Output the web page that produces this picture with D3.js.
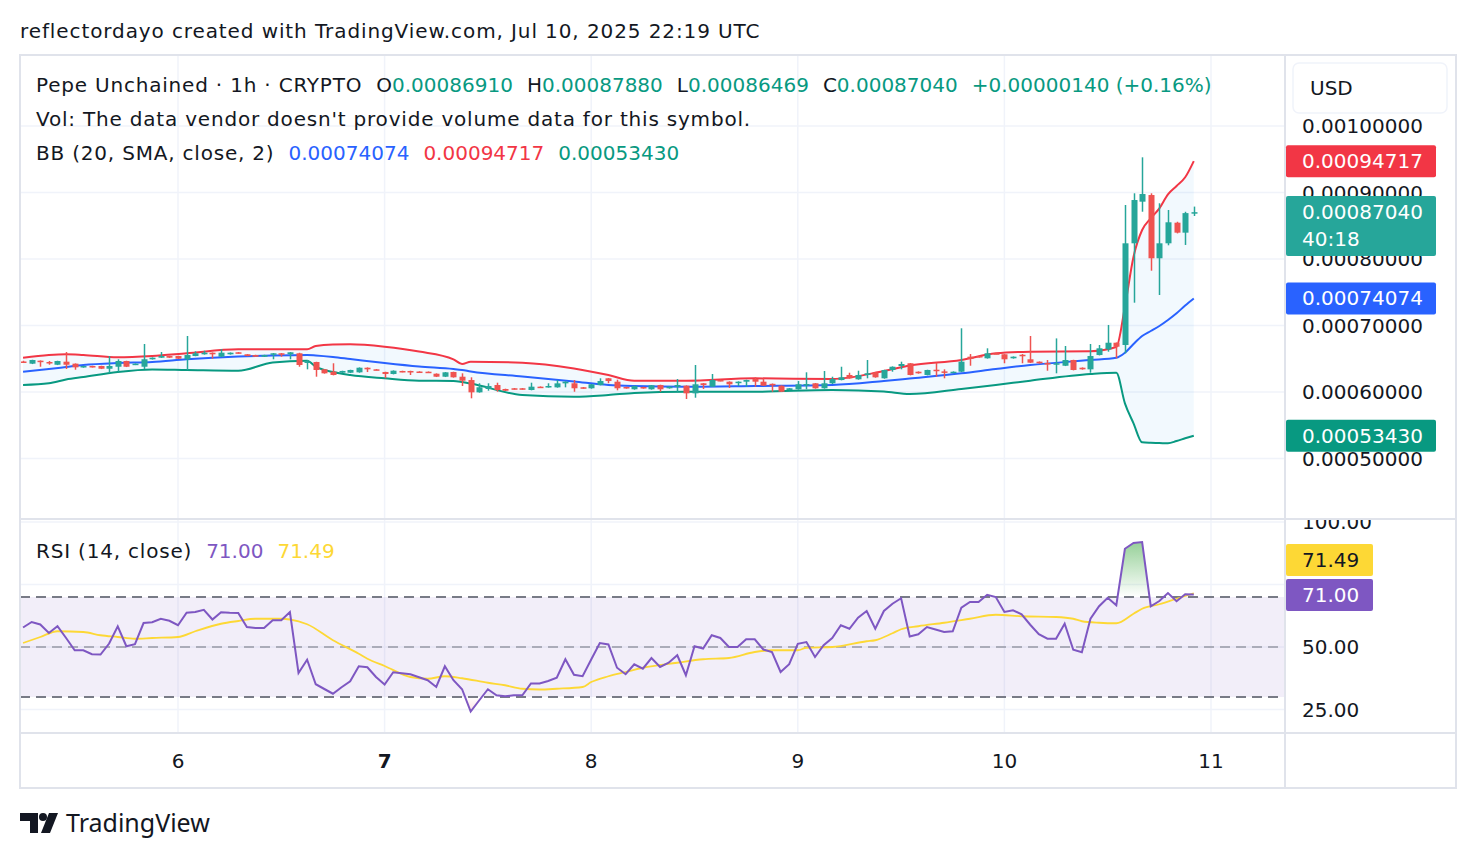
<!DOCTYPE html>
<html lang="en">
<head>
<meta charset="UTF-8">
<title>Pepe Unchained 1h - TradingView</title>
<script src="https://cdn.jsdelivr.net/npm/d3@7"></script>
<style>
  body { margin: 0; background: #fff; }
  svg text { font-family: "DejaVu Sans", "Noto Sans", sans-serif; fill: #131722; }
  .wide { letter-spacing: 0.8px; }
</style>
</head>
<body>
<svg id="chart" width="1476" height="858"></svg>
<script>
// prices are kept in units of 1e-8 (87040 = 0.00087040)
var UNIT = 1e-8;
var firstCandle = Date.UTC(2025, 6, 5, 6); // Jul 5 06:00 UTC, hourly candles

// [open, high, low, close]
var candles = [
  [64590,64700,64400,64440],[64260,64850,64200,64810],[64710,64750,63800,64510],[64510,64660,64100,64360],
  [64100,64700,64050,64660],[64560,66010,63460,64100],[64260,64300,63350,63710],[63710,63950,63650,63910],
  [63910,63950,63680,63710],[63910,63950,63450,63500],[63500,65410,62900,63910],[63800,64920,63050,64660],
  [64660,64700,63750,63800],[64100,64300,64050,64260],[63800,67220,63460,64920],[64920,65200,64880,65160],
  [65160,66010,65120,65410],[65410,65450,65120,65160],[65410,65450,64960,65010],[64920,68420,63310,65560],
  [65410,66120,65380,65820],[65670,66210,65620,65910],[65910,65950,65010,65670],[65310,66470,65260,65910],
  [65670,65950,65620,65910],[65970,66010,65780,65820],[65670,65700,65380,65410],[65560,65600,65260,65310],
  [65310,65600,65260,65560],[65670,65860,64920,65820],[65820,65860,65310,65670],[65670,66010,64920,65970],
  [65820,65900,63800,64060],[64440,64810,63410,64590],[64510,64550,62300,63310],[63410,63450,62760,62810],
  [63050,64320,62500,62560],[62900,63200,62850,63160],[62900,63350,62850,63310],[62960,63700,62900,63650],
  [63650,63700,63000,63410],[63410,63450,63260,63310],[63010,63050,62060,62710],[62710,63250,62650,63200],
  [63160,63200,62960,63010],[63160,63200,62560,63010],[63080,63120,62960,63010],[63050,63090,62960,63010],
  [62750,62800,62250,62300],[62300,63000,62250,62960],[63010,63050,62160,62210],[62300,62810,60900,61700],
  [61800,62210,59050,59950],[59950,61310,59900,60710],[60450,61310,60190,60900],[61050,61400,60040,60300],
  [60450,60500,60150,60190],[60560,60600,60360,60410],[60560,60600,60360,60410],[60300,61400,60250,60800],
  [60800,60840,60600,60650],[60710,61310,60660,60900],[60700,61800,60650,61300],[61300,61600,60700,61550],
  [61310,61800,60040,60560],[60710,60750,60500,60560],[60560,61200,60500,61160],[61050,62060,61000,61650],
  [62060,62100,61310,61650],[61550,61850,60250,60560],[60750,60800,60500,60560],[60410,60950,60350,60900],
  [60750,60800,60500,60560],[60410,61050,60350,61010],[61050,61100,60040,60410],[60560,60840,60500,60800],
  [60800,61950,60040,61050],[60950,61000,58950,59800],[59800,64060,59140,61160],[61310,61350,60450,61050],
  [60800,62710,60750,61800],[61800,61850,61600,61650],[61550,61600,60600,61160],[61350,61600,60900,61550],
  [61550,61850,60800,61800],[61950,62210,60800,61550],[61550,62060,60900,60950],[61230,61280,60040,61050],
  [60950,61000,60000,60040],[60300,60600,60250,60560],[60410,61650,60350,61160],[61100,62960,60410,61200],
  [61310,61350,60500,60560],[60560,63160,60500,61310],[61310,62300,61200,61950],[61800,63800,61750,62210],
  [62560,62900,62000,62060],[61910,63200,61850,62560],[62560,64810,62060,62810],[62960,63000,62150,62210],
  [62060,63350,62000,63310],[63310,63850,63050,63800],[63910,64560,63410,64210],[64320,64350,62500,62560],
  [63050,63100,62760,62810],[62560,63350,62500,63310],[63350,64410,62300,63250],[63100,63410,62060,63000],
  [62900,63100,62850,63050],[63050,69580,63000,64560],[65310,65710,63950,64960],[65410,65450,65170,65220],
  [65070,66570,65020,65820],[65820,65860,65670,65710],[65670,65700,64320,64920],[65070,65350,65020,65310],
  [65600,65710,64320,65500],[64920,68420,64350,64410],[64560,64600,64260,64320],[64360,64810,63200,64260],
  [64170,68060,62810,64320],[63950,66920,63900,64810],[64810,64850,63250,63310],[63650,63700,63360,63410],
  [63410,67220,62900,65410],[65560,67070,65500,66570],[66420,70080,66060,67410],[67410,67450,65070,66810],
  [67070,88120,65820,82360],[82360,89880,73430,88870],[88620,95290,87110,89770],[89620,89880,78240,80110],
  [80110,88380,74590,82360],[82360,87370,82060,85520],[85460,85600,83850,83960],[83960,87100,82110,86900],
  [86910,87880,86469,87040]
];

// Bollinger Bands (20, SMA, close, 2) read at these candle indexes
var bbIdx   = [0,3,5,7,11,15,19,25,29,33,34,36,38,42,46,50,51,52,58,64,68,71,77,85,94,100,103,109,113,117,124,127,128,129,130,131,132,133,134,135,136];
var bbUpper = [65157,65563,65668,65563,65217,65413,65819,66420,66420,66420,66916,67142,67172,66811,66089,64916,64210,64555,64405,63533,62555,61698,61698,62059,61954,63157,63984,64811,65819,66059,66134,66766,72826,80345,84360,86120,87624,89729,90977,92286,94717];
var bbBasis = [63052,63458,63758,64059,64360,64510,64916,65337,65488,65563,65488,65262,64961,64360,63834,63458,63307,63082,62330,61578,61052,60901,60796,60901,61052,61653,62029,62811,63458,64059,64811,65157,65909,67217,68420,69172,69924,70826,71834,73007,74074];
var bbLower = [61052,61307,61879,62255,63007,63382,63307,63202,64435,64706,63804,63007,62555,62059,61698,61653,61503,61277,59548,59292,59548,59849,60044,60044,60300,60074,59698,60450,61052,61698,62706,62901,58300,55292,52435,52360,52330,52284,52630,53036,53430];

// RSI (14, close), one value per candle
var rsi = [57.8,60.0,59.0,55.6,58.3,53.6,48.7,48.7,47.1,47.0,51.4,58.3,50.3,51.1,59.6,59.9,61.3,60.5,58.7,63.7,
  64.0,64.9,61.0,63.9,63.7,63.6,58.0,57.6,57.6,60.7,60.7,64.0,39.6,44.9,35.1,33.2,31.3,33.9,36.3,42.3,
  41.9,38.0,35.0,39.9,39.5,39.1,37.9,36.7,34.0,42.3,36.7,33.1,24.2,28.7,33.1,30.7,30.3,30.7,30.7,35.4,
  35.4,36.4,37.7,45.1,38.9,38.3,45.0,51.6,51.0,41.7,39.1,43.1,41.3,45.6,42.0,43.7,46.7,38.7,50.3,49.4,
  54.7,53.6,50.0,50.0,53.1,53.1,49.0,48.0,40.0,43.1,51.3,52.0,46.0,50.7,53.6,58.7,57.3,61.7,64.4,57.3,
  64.4,67.3,69.5,54.2,55.1,58.0,57.0,56.0,56.3,65.7,68.0,68.0,70.9,70.0,64.0,64.7,63.1,58.9,55.1,53.3,
  53.3,59.3,48.9,47.9,61.3,66.3,69.7,66.7,89.3,91.6,92.0,66.3,68.4,71.6,68.3,71.1,71.0];

// RSI-based MA read at these candle indexes
var maIdx = [0,2,4,7,9,11,13,15,18,20,23,25,27,30,31,33,36,39,40,42,45,47,49,51,54,56,58,60,62,65,66,68,70,72,76,79,82,85,87,90,91,94,98,99,101,102,104,107,110,113,116,120,122,123,125,127,129,130,132,134,136];
var maVal = [51.6,54.0,56.3,56.0,54.7,54.0,53.3,53.6,54.0,56.3,59.3,60.4,61.3,61.3,61.0,59.1,52.7,47.3,45.3,42.4,38.0,37.3,38.3,37.5,35.7,34.7,33.3,33.0,33.3,34.0,36.0,38.3,40.0,41.7,43.7,45.1,45.6,48.0,48.7,48.7,49.7,50.0,52.3,52.7,55.5,57.1,58.3,59.7,61.3,62.9,62.3,62.0,61.3,60.3,59.7,59.5,63.3,65.3,67.1,69.3,71.49];

var priceTicks = [0.0005, 0.0006, 0.0007, 0.0008, 0.0009, 0.001];
var rsiTicks = [25, 50, 75, 100];
var rsiLevels = [70, 50, 30];
var dayTicks = [6, 7, 8, 9, 10, 11];

var up = "#26a69a", down = "#ef5350";
var fmt = function (v) { return (v * UNIT).toFixed(8); };

var svg = d3.select("#chart");
var L = 20, R = 1285, AX = 1456;
var paneTop = 55, paneBottom = 519, rsiTop = 520, rsiBottom = 733, chartBottom = 788;

var x = d3.scaleUtc()
  .domain([new Date(Date.UTC(2025, 6, 6)), new Date(Date.UTC(2025, 6, 11))])
  .range([178, 1211]);
var y = d3.scaleLinear().domain([0.0005, 0.001]).range([458.5, 126]);
var ry = d3.scaleLinear().domain([25, 100]).range([709.5, 522]);

var tAt = function (i) { return new Date(firstCandle + i * 3600e3); };
var cx = function (i) { return x(tAt(i)); };
var py = function (v) { return y(v * UNIT); };

var defs = svg.append("defs");
defs.append("clipPath").attr("id", "pricePane").append("rect")
  .attr("x", L).attr("y", paneTop).attr("width", R - L).attr("height", paneBottom - paneTop);
defs.append("clipPath").attr("id", "rsiPane").append("rect")
  .attr("x", L).attr("y", rsiTop).attr("width", R - L).attr("height", rsiBottom - rsiTop);
defs.append("clipPath").attr("id", "rsiAxis").append("rect")
  .attr("x", R).attr("y", rsiTop).attr("width", AX - R).attr("height", rsiBottom - rsiTop);
defs.append("clipPath").attr("id", "above70").append("rect")
  .attr("x", L).attr("y", rsiTop).attr("width", R - L).attr("height", ry(70) - rsiTop);
defs.append("clipPath").attr("id", "below30").append("rect")
  .attr("x", L).attr("y", ry(30)).attr("width", R - L).attr("height", rsiBottom - ry(30));

var gGreen = defs.append("linearGradient").attr("id", "obFill")
  .attr("gradientUnits", "userSpaceOnUse").attr("x1", 0).attr("x2", 0).attr("y1", ry(100)).attr("y2", ry(70));
gGreen.append("stop").attr("offset", 0).attr("stop-color", "rgba(76,175,80,0.8)");
gGreen.append("stop").attr("offset", 1).attr("stop-color", "rgba(76,175,80,0)");
var gRed = defs.append("linearGradient").attr("id", "osFill")
  .attr("gradientUnits", "userSpaceOnUse").attr("x1", 0).attr("x2", 0).attr("y1", ry(30)).attr("y2", ry(0));
gRed.append("stop").attr("offset", 0).attr("stop-color", "rgba(242,54,69,0)");
gRed.append("stop").attr("offset", 1).attr("stop-color", "rgba(242,54,69,0.8)");

// top caption
svg.append("text").attr("x", 20).attr("y", 31).attr("dy", "0.35em").style("font-size", "20px")
  .style("letter-spacing", "0.9px")
  .text("reflectordayo created with TradingView.com, Jul 10, 2025 22:19 UTC");

// grid
var grid = svg.append("g").attr("stroke", "#f0f3fa").attr("stroke-width", 1.5);
grid.selectAll(".vg").data(dayTicks).enter().append("line")
  .attr("x1", function (d) { return x(new Date(Date.UTC(2025, 6, d))); })
  .attr("x2", function (d) { return x(new Date(Date.UTC(2025, 6, d))); })
  .attr("y1", paneTop).attr("y2", rsiBottom);
grid.selectAll(".hg").data(priceTicks).enter().append("line")
  .attr("x1", L).attr("x2", R).attr("y1", function (d) { return y(d); }).attr("y2", function (d) { return y(d); });
grid.selectAll(".rg").data(rsiTicks).enter().append("line")
  .attr("x1", L).attr("x2", R).attr("y1", function (d) { return ry(d); }).attr("y2", function (d) { return ry(d); });

// Bollinger Bands
var price = svg.append("g").attr("clip-path", "url(#pricePane)");
var bandArea = d3.area().curve(d3.curveMonotoneX)
  .x(function (d, k) { return cx(bbIdx[k]); })
  .y0(function (d, k) { return py(bbLower[k]); })
  .y1(function (d, k) { return py(bbUpper[k]); });
price.append("path").datum(bbIdx).attr("d", bandArea).attr("fill", "rgba(33,150,243,0.06)");
var bbLine = function (vals) {
  return d3.line().curve(d3.curveMonotoneX)
    .x(function (d, k) { return cx(bbIdx[k]); })
    .y(function (d, k) { return py(vals[k]); })(bbIdx);
};
[[bbUpper, "#f23645"], [bbBasis, "#2962ff"], [bbLower, "#089981"]].forEach(function (b) {
  price.append("path").attr("d", bbLine(b[0])).attr("fill", "none")
    .attr("stroke", b[1]).attr("stroke-width", 2);
});

// candles
var cg = price.selectAll(".candle").data(candles).enter().append("g");
cg.append("line")
  .attr("x1", function (d, i) { return Math.round(cx(i)) + 0.5; })
  .attr("x2", function (d, i) { return Math.round(cx(i)) + 0.5; })
  .attr("y1", function (d) { return py(d[1]); })
  .attr("y2", function (d) { return py(d[2]); })
  .attr("stroke", function (d) { return d[3] >= d[0] ? up : down; })
  .attr("stroke-width", 1.5);
cg.append("rect")
  .attr("x", function (d, i) { return Math.round(cx(i)) - 2.5; })
  .attr("width", 6)
  .attr("y", function (d) { return py(Math.max(d[0], d[3])); })
  .attr("height", function (d) { return Math.max(1.5, Math.abs(py(d[0]) - py(d[3]))); })
  .attr("fill", function (d) { return d[3] >= d[0] ? up : down; });

// RSI pane
var rp = svg.append("g").attr("clip-path", "url(#rsiPane)");
rp.append("rect").attr("x", L).attr("width", R - L)
  .attr("y", ry(70)).attr("height", ry(30) - ry(70)).attr("fill", "rgba(126,87,194,0.1)");
rp.selectAll(".lvl").data(rsiLevels).enter().append("line")
  .attr("x1", L).attr("x2", R).attr("y1", function (d) { return ry(d); }).attr("y2", function (d) { return ry(d); })
  .attr("stroke", "#787b86").attr("stroke-width", 2)
  .attr("stroke-opacity", function (d) { return d === 50 ? 0.55 : 1; })
  .attr("stroke-dasharray", "10,6");

var rsiLine = d3.line().x(function (d, i) { return cx(i); }).y(function (d) { return ry(d); });
rp.append("path").datum(rsi).attr("clip-path", "url(#above70)").attr("fill", "url(#obFill)")
  .attr("d", d3.area().x(function (d, i) { return cx(i); }).y0(ry(70)).y1(function (d) { return ry(d); }));
rp.append("path").datum(rsi).attr("clip-path", "url(#below30)").attr("fill", "url(#osFill)")
  .attr("d", d3.area().x(function (d, i) { return cx(i); }).y0(ry(30)).y1(function (d) { return ry(d); }));
rp.append("path").datum(maIdx).attr("fill", "none").attr("stroke", "#fdd835").attr("stroke-width", 1.8)
  .attr("d", d3.line().curve(d3.curveMonotoneX)
    .x(function (d) { return cx(d); }).y(function (d, k) { return ry(maVal[k]); }));
rp.append("path").datum(rsi).attr("fill", "none").attr("stroke", "#7e57c2").attr("stroke-width", 2)
  .attr("d", rsiLine);

// frame
var frame = svg.append("g").attr("stroke", "#e0e3eb").attr("stroke-width", 2).attr("fill", "none");
frame.append("rect").attr("x", L).attr("y", paneTop).attr("width", AX - L).attr("height", chartBottom - paneTop);
frame.append("line").attr("x1", R).attr("x2", R).attr("y1", paneTop).attr("y2", chartBottom);
frame.append("line").attr("x1", L).attr("x2", AX).attr("y1", paneBottom).attr("y2", paneBottom);
frame.append("line").attr("x1", L).attr("x2", AX).attr("y1", rsiBottom).attr("y2", rsiBottom);

// price axis labels
svg.selectAll(".pt").data(priceTicks).enter().append("text")
  .attr("x", 1302).attr("y", function (d) { return y(d); }).attr("dy", "0.35em")
  .style("font-size", "20px").text(function (d) { return d.toFixed(8); });
svg.append("g").attr("clip-path", "url(#rsiAxis)").selectAll(".rt")
  .data(rsiTicks.filter(function (d) { return d !== 75; })).enter().append("text")
  .attr("x", 1302).attr("y", function (d) { return ry(d); }).attr("dy", "0.35em")
  .style("font-size", "20px").text(function (d) { return d.toFixed(2); });

// USD button
svg.append("rect").attr("x", 1293).attr("y", 63).attr("width", 154).attr("height", 50).attr("rx", 6)
  .attr("fill", "#fff").attr("stroke", "#f0f3fa").attr("stroke-width", 1.5);
svg.append("text").attr("x", 1310).attr("y", 88).attr("dy", "0.35em").style("font-size", "20px").text("USD");

// last-value labels
var last = candles[candles.length - 1], prev = candles[candles.length - 2];
var n = bbIdx.length - 1;
function tag(cy, h, color, lines, textColor, w) {
  svg.append("rect").attr("x", R + 1).attr("y", cy - h / 2).attr("width", w || 150).attr("height", h)
    .attr("rx", 2).attr("fill", color);
  lines.forEach(function (t, k) {
    svg.append("text").attr("x", 1302).attr("y", cy - h / 2 + 16 + k * 27).attr("dy", "0.35em")
      .style("font-size", "20px").style("fill", textColor || "#fff").text(t);
  });
}
tag(py(bbUpper[n]), 32, "#f23645", [fmt(bbUpper[n])]);
tag(226, 60, up, [fmt(last[3]), "40:18"]);
tag(py(bbBasis[n]), 32, "#2962ff", [fmt(bbBasis[n])]);
tag(py(bbLower[n]), 32, "#089981", [fmt(bbLower[n])]);
tag(560, 32, "#fdd835", [maVal[maVal.length - 1].toFixed(2)], "#131722", 87);
tag(595, 32, "#7e57c2", [rsi[rsi.length - 1].toFixed(2)], "#fff", 87);

// time axis
svg.selectAll(".dt").data(dayTicks).enter().append("text")
  .attr("x", function (d) { return x(new Date(Date.UTC(2025, 6, d))); }).attr("y", 761).attr("dy", "0.35em")
  .attr("text-anchor", "middle").style("font-size", "20px")
  .style("font-weight", function (d) { return d === 7 ? "bold" : "normal"; })
  .text(function (d) { return d; });

// legends: word parts get a touch of letter spacing, numbers stay plain
function legend(yPos, parts) {
  var t = svg.append("text").attr("x", 36).attr("y", yPos).attr("dy", "0.35em").style("font-size", "20px");
  parts.forEach(function (p) {
    t.append("tspan").attr("dx", p[2] || 0).attr("class", p[3] ? "wide" : null)
      .style("fill", p[1] || "#131722").text(p[0]);
  });
}
var chg = last[3] - prev[3];
var vc = "#089981";
legend(85, [["Pepe Unchained · 1h · CRYPTO", null, 0, true],
  ["O", null, 14], [fmt(last[0]), vc], ["H", null, 14], [fmt(last[1]), vc],
  ["L", null, 14], [fmt(last[2]), vc], ["C", null, 14], [fmt(last[3]), vc],
  ["+" + fmt(chg) + " (+" + (chg / prev[3] * 100).toFixed(2) + "%)", vc, 14]]);
legend(119, [["Vol: The data vendor doesn't provide volume data for this symbol.", null, 0, true]]);
legend(153, [["BB (20, SMA, close, 2)", null, 0, true], [fmt(bbBasis[n]), "#2962ff", 14],
  [fmt(bbUpper[n]), "#f23645", 14], [fmt(bbLower[n]), "#089981", 14]]);
legend(551, [["RSI (14, close)", null, 0, true], [rsi[rsi.length - 1].toFixed(2), "#7e57c2", 14],
  [maVal[maVal.length - 1].toFixed(2), "#fdd835", 14]]);

// TradingView logo
var logo = svg.append("g").attr("fill", "#131722");
logo.append("path").attr("d", "M20,813 H38 V833 H30 V821 H20 Z");
logo.append("circle").attr("cx", 43).attr("cy", 817).attr("r", 4);
logo.append("path").attr("d", "M49,813 H58 L50,833 H41 Z");
svg.append("text").attr("x", 66).attr("y", 823).attr("dy", "0.35em")
  .style("font-family", "'Noto Sans', sans-serif").style("font-size", "25px").text("TradingView");
</script>
</body>
</html>
